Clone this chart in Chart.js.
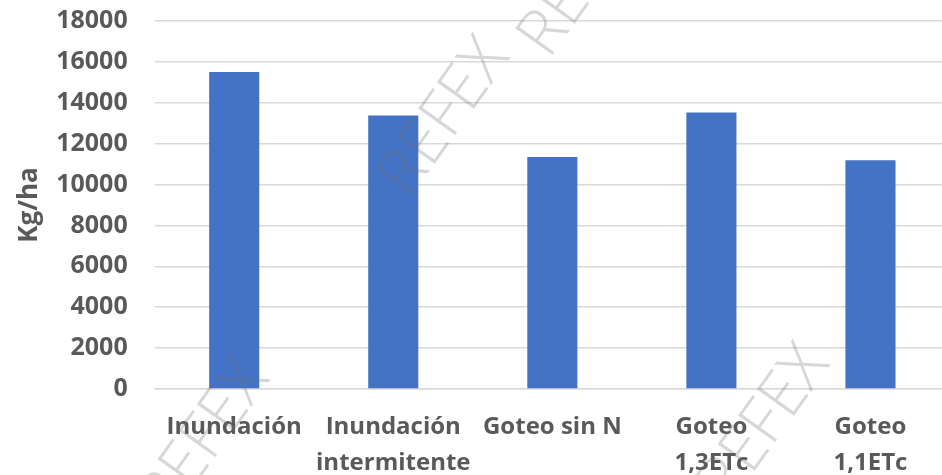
<!DOCTYPE html>
<html>
<head>
<meta charset="utf-8">
<script src="https://cdn.jsdelivr.net/npm/chart.js@4/dist/chart.umd.min.js"></script>
<style>
  html, body { margin: 0; padding: 0; overflow: hidden; background: #fff; }
  #wrap { position: relative; width: 952px; height: 481px; }
</style>
</head>
<body>
<div id="wrap"><canvas id="yieldChart"></canvas></div>
<script>
const categories = [
  "Inundación",
  ["Inundación", "intermitente"],
  "Goteo sin N",
  ["Goteo", "1,3ETc"],
  ["Goteo", "1,1ETc"],
];
const yieldValues = [15500, 13380, 11350, 13520, 11190];
const yTicks = [0, 2000, 4000, 6000, 8000, 10000, 12000, 14000, 16000, 18000];
const watermarkText = "REFEX";

// faint diagonal watermark like the original image
const watermark = {
  id: "watermark",
  afterDraw(chart) {
    const ctx = chart.ctx;
    const spots = [
      [445, 118], [585, -22], [205, 440], [765, 425],
    ];
    ctx.save();
    ctx.font = "300 64px 'Open Sans'";
    ctx.fillStyle = "rgba(110, 110, 110, 0.28)";
    ctx.textAlign = "center";
    ctx.textBaseline = "middle";
    spots.forEach(([x, y]) => {
      ctx.save();
      ctx.translate(x, y);
      ctx.rotate(-0.95);
      ctx.fillText(watermarkText, 0, 0);
      ctx.restore();
    });
    ctx.restore();
  },
};

new Chart(document.getElementById("yieldChart"), {
  type: "bar",
  data: {
    labels: categories,
    datasets: [
      {
        label: "Kg/ha",
        data: yieldValues,
        backgroundColor: "#4472C4",
        borderWidth: 0,
        categoryPercentage: 1,
        barPercentage: 0.315,
      },
    ],
  },
  options: {
    responsive: true,
    maintainAspectRatio: false,
    animation: false,
    layout: {
      padding: { left: 14, right: 2, top: 21, bottom: 0 },
    },
    plugins: {
      legend: { display: false },
      tooltip: { enabled: false },
    },
    scales: {
      x: {
        grid: { display: false, drawTicks: true, tickLength: 20, tickColor: "transparent" },
        border: { color: "#d9d9d9", width: 1.5 },
        ticks: {
          color: "#595959",
          font: { family: "'Open Sans'", size: 24, weight: "bold", lineHeight: 1.5 },
          padding: 0,
          maxRotation: 0,
          autoSkip: false,
        },
      },
      y: {
        min: 0,
        max: 18000,
        afterBuildTicks: (axis) => {
          axis.ticks = yTicks.map((v) => ({ value: v }));
        },
        grid: { color: "#d9d9d9", lineWidth: 1.5, drawTicks: true, tickLength: 27, tickColor: "transparent" },
        border: { display: false },
        title: {
          display: true,
          text: "Kg/ha",
          color: "#595959",
          font: { family: "'Open Sans'", size: 26, weight: "bold" },
          padding: { top: 0, bottom: 11 },
        },
        ticks: {
          color: "#595959",
          font: { family: "'Open Sans'", size: 25, weight: "bold" },
          padding: 0,
          callback: (value) => String(value),
        },
      },
    },
  },
  plugins: [watermark],
});
</script>
</body>
</html>
